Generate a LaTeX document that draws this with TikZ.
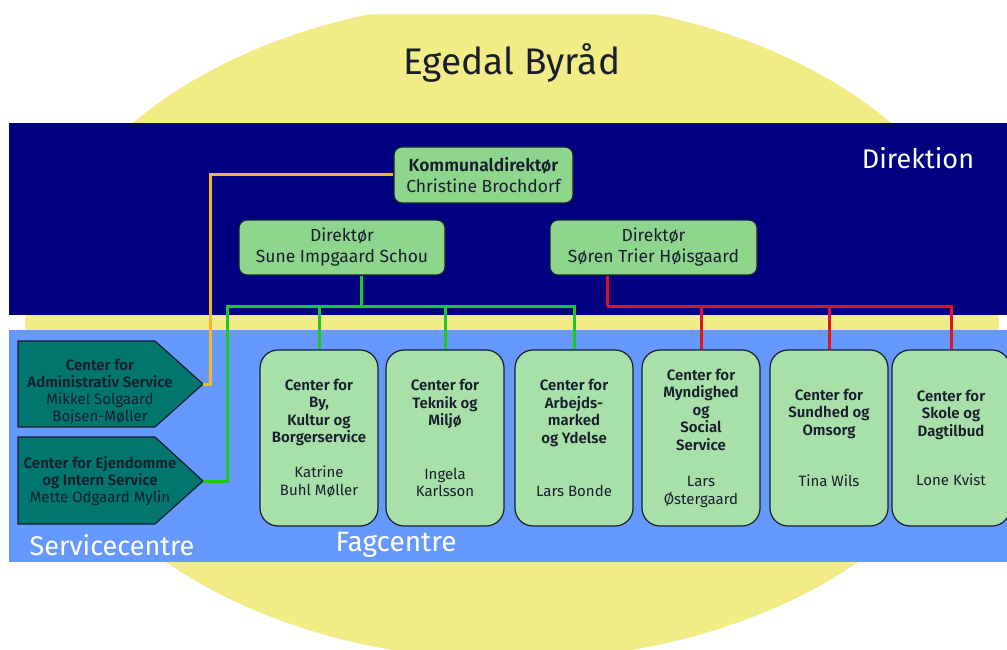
\documentclass[tikz,border=0pt]{standalone}
\usepackage{fontspec}
\setmainfont{Fira Sans}[BoldFont={Fira Sans SemiBold}]
\usetikzlibrary{calc}
\definecolor{navyband}{RGB}{0,0,128}
\definecolor{blueband}{RGB}{102,153,255}
\definecolor{sunyellow}{RGB}{242,236,134}
\definecolor{topgreen}{RGB}{142,214,142}
\definecolor{faggreen}{RGB}{168,224,170}
\definecolor{svcteal}{RGB}{0,118,110}
\definecolor{edgedark}{RGB}{25,30,45}
\definecolor{lineorange}{RGB}{245,185,40}
\definecolor{linegreen}{RGB}{30,200,30}
\definecolor{linered}{RGB}{225,20,30}
\tikzset{
	chefbox/.style={draw=edgedark, line width=1.2pt, fill=topgreen, rounded corners=8pt, align=center, text=edgedark, font=\fontsize{17.5}{21}\selectfont},
	fagbox/.style={draw=edgedark, line width=1.2pt, fill=faggreen, rounded corners=18pt, minimum width=118pt, minimum height=176pt, align=center, text=edgedark, font=\fontsize{15}{17.5}\selectfont},
	svcshape/.style={draw=edgedark, line width=1.2pt, fill=svcteal},
	svctext/.style={align=center, text=edgedark, font=\fontsize{15}{17}\selectfont},
	bandlabel/.style={text=white, font=\fontsize{27}{30}\selectfont},
	conn/.style={line width=3pt}
}

\begin{document}
\begin{tikzpicture}[x=1pt, y=-1pt]
			%%%%% START %%%%%
			
			\useasboundingbox (0,0) rectangle (1007,650);
			\fill[white] (0,0) rectangle (1007,650);
			
			\begin{scope}
				\clip (0,15) rectangle (1007,650);
				\fill[sunyellow] (512,330) ellipse [x radius=487pt, y radius=330pt];
			\end{scope}
			
			\fill[navyband] (9,123) rectangle (1007,315);
			\fill[blueband] (9,330) rectangle (1007,562);
			
			\node[text=edgedark, font=\fontsize{37}{40}\selectfont] (title) at (512,63) {Egedal Byråd};
			\node[bandlabel] (direktion) at (918,158) {Direktion};
			\node[bandlabel] (servicecentre) at (112,545) {Servicecentre};
			\node[bandlabel, font=\fontsize{28}{30}\selectfont] (fagcentre) at (396,545) {Fagcentre};
			
			%% direktion
			\node[chefbox, minimum width=179pt, minimum height=56pt] (kd) at (483.5,175) {\textbf{Kommunaldirektør}\\Christine Brochdorf};
			\node[chefbox, minimum width=206pt, minimum height=55pt] (dsune) at (342,247.5) {Direktør\\Sune Impgaard Schou};
			\node[chefbox, minimum width=207pt, minimum height=55pt] (dsoren) at (653.5,247.5) {Direktør\\Søren Trier Høisgaard};
			
			%% servicecentre
			\draw[svcshape] (18,341) -- (155,341) -- (203,384) -- (155,427) -- (18,427) -- cycle;
			\coordinate (sadmtip) at (203,384);
			\node[svctext] (sadm) at (100,391.5) {\textbf{Center for}\\\textbf{Administrativ Service}\\Mikkel Solgaard\\Bojsen-Møller};
			
			\draw[svcshape] (18,437) -- (155,437) -- (203,481) -- (155,524) -- (18,524) -- cycle;
			\coordinate (sejdtip) at (203,481);
			\node[svctext] (sejd) at (100,481.5) {\textbf{Center for Ejendomme}\\\textbf{og Intern Service}\\Mette Odgaard Mylin};
			
			%% fagcentre
			\node[fagbox] (fby) at (319,438) {\textbf{Center for}\\\textbf{By,}\\\textbf{Kultur og}\\\textbf{Borgerservice}\\[17.5pt]Katrine\\Buhl Møller};
			\node[fagbox] (ftek) at (445,438) {\textbf{Center for}\\\textbf{Teknik og}\\\textbf{Miljø}\\[36pt]Ingela\\Karlsson};
			\node[fagbox] (farb) at (574,438) {\textbf{Center for}\\\textbf{Arbejds-}\\\textbf{marked}\\\textbf{og Ydelse}\\[36pt]Lars Bonde};
			\node[fagbox] (fmyn) at (701,438) {\textbf{Center for}\\\textbf{Myndighed}\\\textbf{og}\\\textbf{Social}\\\textbf{Service}\\[19pt]Lars\\Østergaard};
			\node[fagbox] (fsun) at (829,438) {\textbf{Center for}\\\textbf{Sundhed og}\\\textbf{Omsorg}\\[34pt]Tina Wils};
			\node[fagbox] (fsko) at (951,438) {\textbf{Center for}\\\textbf{Skole og}\\\textbf{Dagtilbud}\\[32pt]Lone Kvist};
			
			%% lines
			\coordinate (gj) at (361,306);
			\coordinate (rj) at (607,306);
			
			\draw[conn, lineorange] (kd.west) -| ([xshift=7pt]sadmtip) -- (sadmtip);
			
			\draw[conn, linegreen] (dsune.south -| gj) -- (gj);
			\draw[conn, linegreen] (gj) -| (fby.north);
			\draw[conn, linegreen] (gj) -| (ftek.north);
			\draw[conn, linegreen] (gj) -| (farb.north);
			\draw[conn, linegreen] (gj) -| ([xshift=24pt]sejdtip) -- (sejdtip);
			
			\draw[conn, linered] (dsoren.south -| rj) -- (rj);
			\draw[conn, linered] (rj) -| (fmyn.north);
			\draw[conn, linered] (rj) -| (fsun.north);
			\draw[conn, linered] (rj) -| (fsko.north);
			
			%%%%% END %%%%%
\end{tikzpicture}
\end{document}
